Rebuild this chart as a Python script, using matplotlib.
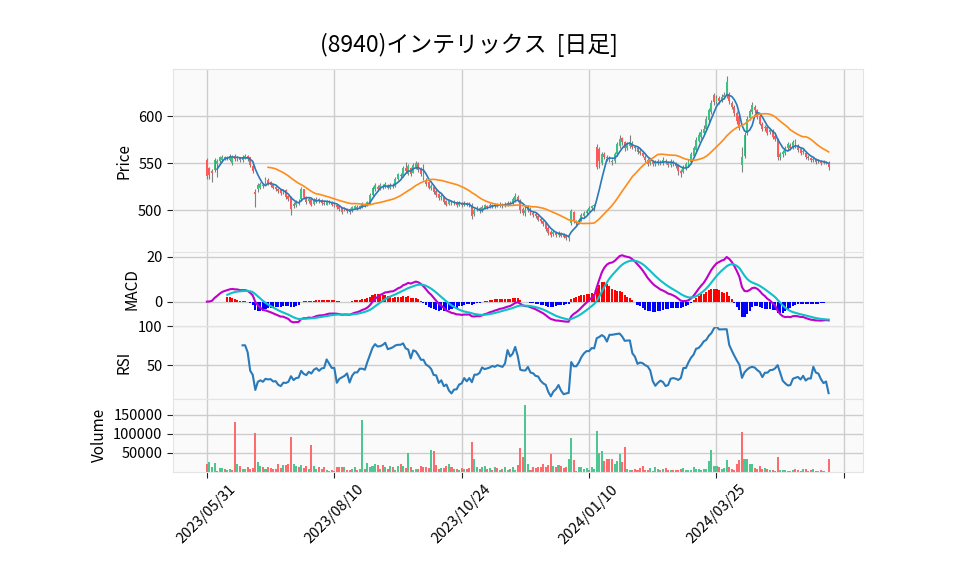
import numpy as np
import pandas as pd
import matplotlib
matplotlib.use("Agg")
import matplotlib.pyplot as plt

# Japanese title needs a CJK font, keep DejaVu as fallback
plt.rcParams['font.family'] = ['Noto Sans CJK JP', 'DejaVu Sans']

title = "(8940)インテリックス  [日足]"

# Daily prices (index 0 = 2023/05/31)
opens = [
    553, 545, 542, 543, 549, 552, 553, 557, 555, 553, 550, 558, 554, 556, 553, 556, 558, 556, 547, 519,
    522, 524, 527, 530, 532, 530, 527, 525, 523, 522, 520, 521, 515, 514, 504, 505, 508, 512, 522, 514,
    510, 512, 507, 509, 512, 511, 508, 506, 510, 509, 506, 505, 504, 502, 500, 500, 501, 499, 502, 503,
    502, 503, 506, 505, 508, 516, 522, 525, 523, 526, 525, 527, 524, 527, 526, 533, 537, 536, 545, 538,
    545, 540, 546, 550, 544, 540, 532, 530, 524, 525, 520, 517, 514, 514, 510, 507, 509, 508, 509, 506,
    507, 506, 508, 507, 506, 496, 501, 502, 500, 502, 504, 504, 505, 504, 506, 505, 506, 504, 506, 508,
    508, 511, 514, 510, 501, 497, 500, 501, 497, 496, 494, 491, 489, 486, 481, 477, 475, 476, 474, 476,
    474, 473, 471, 486, 498, 488, 486, 490, 494, 497, 499, 502, 504, 567, 565, 550, 560, 557, 556, 552,
    552, 560, 568, 577, 572, 566, 568, 571, 567, 566, 563, 561, 557, 553, 550, 551, 549, 550, 551, 550,
    552, 551, 548, 551, 549, 548, 542, 541, 545, 548, 551, 558, 564, 574, 578, 582, 586, 596, 604, 622,
    615, 619, 617, 620, 621, 623, 614, 610, 603, 600, 548, 558, 582, 598, 604, 610, 606, 600, 592, 587,
    588, 583, 584, 579, 576, 556, 560, 561, 566, 569, 567, 574, 568, 565, 562, 561, 557, 555, 553, 554,
    552, 551, 550, 551, 550,
]
highs = [
    555, 546, 544, 555, 554, 558, 559, 558, 558, 560, 559, 560, 558, 557, 559, 560, 559, 557, 549, 522,
    529, 530, 529, 535, 534, 531, 528, 526, 524, 523, 523, 522, 516, 515, 509, 511, 512, 525, 523, 515,
    514, 513, 513, 514, 513, 512, 510, 511, 511, 510, 508, 506, 505, 503, 503, 502, 502, 504, 505, 505,
    506, 509, 508, 510, 518, 526, 529, 527, 529, 528, 530, 528, 529, 529, 535, 540, 539, 547, 551, 549,
    546, 550, 552, 551, 546, 549, 534, 531, 528, 527, 522, 518, 517, 515, 511, 512, 511, 511, 510, 510,
    509, 510, 509, 509, 508, 502, 504, 503, 505, 507, 506, 508, 507, 508, 508, 509, 508, 509, 510, 510,
    514, 518, 516, 512, 503, 504, 505, 503, 499, 498, 495, 493, 490, 487, 483, 479, 479, 478, 478, 477,
    476, 475, 473, 501, 499, 490, 492, 497, 499, 501, 504, 506, 507, 570, 567, 562, 562, 559, 558, 554,
    562, 572, 580, 578, 573, 572, 580, 573, 569, 568, 565, 563, 559, 555, 554, 553, 553, 554, 553, 556,
    554, 552, 554, 553, 551, 549, 544, 548, 551, 554, 562, 568, 578, 583, 586, 590, 600, 609, 617, 625,
    622, 621, 623, 626, 643, 626, 616, 612, 605, 602, 567, 583, 600, 608, 615, 612, 608, 602, 594, 590,
    590, 587, 586, 581, 577, 562, 564, 568, 572, 571, 575, 576, 570, 567, 565, 563, 559, 557, 556, 555,
    554, 553, 553, 552, 552,
]
lows = [
    533, 533, 530, 541, 535, 550, 551, 553, 553, 552, 548, 552, 552, 551, 551, 554, 552, 546, 540, 503,
    519, 522, 524, 528, 527, 525, 522, 520, 518, 516, 517, 512, 510, 495, 502, 503, 506, 510, 512, 507,
    508, 504, 505, 508, 508, 506, 505, 505, 507, 504, 503, 501, 499, 496, 499, 497, 496, 498, 501, 500,
    501, 502, 503, 504, 507, 515, 520, 520, 521, 523, 524, 522, 523, 524, 525, 532, 534, 535, 540, 537,
    536, 539, 544, 541, 536, 532, 526, 522, 521, 517, 514, 511, 511, 507, 504, 505, 505, 506, 503, 504,
    503, 504, 504, 503, 491, 494, 499, 497, 498, 501, 501, 502, 502, 502, 503, 503, 502, 503, 504, 505,
    506, 509, 509, 497, 495, 494, 498, 495, 493, 492, 488, 486, 483, 478, 474, 471, 473, 472, 472, 471,
    470, 468, 467, 484, 486, 484, 485, 489, 492, 495, 497, 500, 499, 544, 545, 548, 554, 552, 551, 548,
    550, 558, 566, 569, 563, 564, 566, 565, 563, 560, 559, 556, 551, 547, 548, 547, 547, 548, 548, 548,
    549, 546, 546, 547, 545, 537, 535, 539, 543, 546, 549, 556, 562, 572, 576, 580, 584, 594, 602, 612,
    613, 613, 615, 618, 619, 613, 607, 600, 592, 585, 541, 555, 580, 596, 602, 603, 597, 590, 584, 584,
    580, 581, 576, 574, 553, 553, 557, 559, 564, 564, 565, 566, 562, 559, 560, 554, 553, 551, 551, 549,
    550, 548, 549, 549, 543,
]
closes = [
    536, 537, 540, 553, 552, 556, 557, 555, 556, 558, 557, 554, 556, 553, 557, 558, 554, 548, 542, 517,
    527, 528, 526, 532, 529, 527, 524, 522, 520, 518, 521, 514, 512, 501, 507, 510, 509, 523, 514, 509,
    512, 506, 511, 512, 510, 508, 507, 510, 509, 506, 505, 503, 501, 498, 502, 499, 498, 503, 504, 502,
    504, 507, 505, 509, 516, 524, 527, 522, 527, 525, 528, 524, 527, 526, 533, 538, 536, 545, 542, 547,
    538, 548, 550, 543, 538, 534, 528, 524, 526, 519, 516, 513, 515, 509, 506, 510, 507, 509, 505, 508,
    505, 508, 506, 505, 494, 500, 502, 499, 503, 505, 503, 506, 504, 506, 505, 507, 504, 507, 508, 507,
    512, 515, 511, 500, 497, 500, 502, 497, 495, 494, 490, 488, 485, 480, 476, 474, 477, 474, 476, 473,
    472, 470, 470, 499, 488, 486, 490, 495, 497, 499, 502, 504, 505, 546, 552, 560, 557, 555, 553, 551,
    560, 570, 576, 572, 566, 570, 572, 567, 566, 562, 561, 558, 553, 549, 552, 549, 551, 552, 550, 553,
    551, 548, 552, 549, 547, 542, 540, 546, 549, 552, 560, 566, 575, 580, 583, 586, 597, 606, 614, 615,
    619, 616, 620, 622, 636, 616, 610, 603, 595, 587, 556, 580, 597, 605, 612, 606, 599, 592, 586, 588,
    582, 585, 578, 576, 556, 560, 562, 566, 570, 566, 572, 568, 564, 561, 563, 556, 555, 553, 554, 551,
    552, 550, 551, 550, 546,
]
volumes = [
    21000, 26000, 12000, 23000, 3000, 10000, 10000, 8000, 4500, 8000, 5000, 130000, 21000, 16000, 8000, 8000, 13000, 8000, 11000, 102000,
    27000, 16000, 13000, 8000, 13000, 10000, 8000, 8000, 21000, 10000, 19000, 19000, 21000, 91000, 21000, 17000, 13000, 18000, 11000, 17000,
    9000, 72000, 15000, 8000, 13000, 8000, 13000, 5000, 3000, 4000, 2000, 13000, 13000, 13000, 13000, 5000, 5000, 8000, 13000, 5000,
    8000, 137000, 8000, 23000, 12000, 16000, 20000, 18000, 9000, 18000, 12000, 8000, 15000, 13000, 6000, 15000, 20000, 16000, 11000, 50000,
    12000, 5000, 9000, 8000, 15000, 12000, 12000, 10000, 59000, 56000, 18000, 8000, 10000, 10000, 17000, 20000, 12000, 9000, 8000, 5000,
    10000, 8000, 9000, 10000, 80000, 35000, 13000, 9000, 14000, 16000, 8000, 11000, 6000, 13000, 11000, 5000, 9000, 12000, 5000, 9000,
    12000, 6000, 18000, 63000, 39000, 176000, 20000, 5000, 14000, 10000, 12000, 14000, 20000, 13000, 18000, 47000, 17000, 13000, 19000, 16000,
    10000, 14000, 34000, 89000, 31000, 3000, 12000, 12000, 8000, 10000, 4000, 14000, 8000, 108000, 49000, 55000, 28000, 33000, 34000, 34000,
    21000, 30000, 46000, 25000, 65000, 8000, 5000, 4000, 9000, 6000, 11000, 16000, 5000, 4000, 10000, 3000, 14000, 8000, 5000, 8000,
    10000, 4000, 6000, 4000, 5000, 5000, 8000, 10000, 5000, 4000, 6000, 13000, 9000, 9000, 5000, 7000, 8000, 30000, 58000, 17000,
    15000, 13000, 8000, 10000, 32000, 12000, 7000, 6000, 20000, 32000, 104000, 34000, 34000, 20000, 21000, 11000, 7000, 15000, 8000, 10000,
    9000, 6000, 6000, 3000, 39000, 6000, 4000, 5000, 3000, 3000, 6000, 7000, 4000, 2000, 8000, 8000, 3000, 5000, 9000, 3000,
    2000, 6000, 2000, 1000, 34000,
]

tick_pos = [0, 50, 100, 150, 200, 250]
tick_labels = ["2023/05/31", "2023/08/10", "2023/10/24", "2024/01/10", "2024/03/25", ""]

df = pd.DataFrame({"Open": opens, "High": highs, "Low": lows, "Close": closes, "Volume": volumes})
x = np.arange(len(df))

# Moving averages (5 / 25 day)
ma5 = df["Close"].rolling(5).mean()
ma25 = df["Close"].rolling(25).mean()

# MACD 12/26/9
ema12 = df["Close"].ewm(span=12, adjust=False).mean()
ema26 = df["Close"].ewm(span=26, adjust=False).mean()
macd = ema12 - ema26
signal = macd.ewm(span=9, adjust=False, min_periods=9).mean()
hist = macd - signal

# RSI 14 (simple average)
delta = df["Close"].diff()
gain = delta.clip(lower=0).rolling(14).mean()
loss = (-delta.clip(upper=0)).rolling(14).mean()
rsi = 100 - 100 / (1 + gain / loss)

up_col, down_col = "#3cc383", "#ff5a5a"
vol_up, vol_down = "#4dc790", "#fd6b6c"
bg = "#fafafa"
grid_col = "#cdcdcd"

fig = plt.figure(figsize=(9.58, 5.75), dpi=100)
left, width = 173 / 958, 690 / 958
ax_p = fig.add_axes([left, 1 - 252.5 / 575, width, 183.5 / 575])
ax_m = fig.add_axes([left, 1 - 326 / 575, width, 73.5 / 575], sharex=ax_p)
ax_r = fig.add_axes([left, 1 - 398.5 / 575, width, 72.5 / 575], sharex=ax_p)
ax_v = fig.add_axes([left, 1 - 472 / 575, width, 73.5 / 575], sharex=ax_p)

for ax in (ax_p, ax_m, ax_r, ax_v):
    ax.set_facecolor(bg)
    ax.grid(True, color=grid_col, linewidth=1.0)
    ax.set_axisbelow(True)
    for s in ax.spines.values():
        s.set_color("#e4e4e4")
    ax.tick_params(axis="y", labelsize=10.5, length=4, color="#222222")
    ax.tick_params(axis="x", length=0)
    ax.set_xticks(tick_pos)

# Candles
up = df["Close"] >= df["Open"]
candle_cols = np.where(up, up_col, down_col)
ax_p.vlines(x, df["Low"], df["High"], color="#808080", linewidth=0.8, zorder=2)
ax_p.bar(x, (df["Close"] - df["Open"]).abs().clip(lower=0.6), bottom=np.minimum(df["Open"], df["Close"]),
         width=0.75, color=candle_cols, linewidth=0, zorder=3)
ax_p.plot(x, ma5, color="#2a7ab9", linewidth=1.2, zorder=4)
ax_p.plot(x, ma25, color="#ff8c1a", linewidth=1.2, zorder=4)
ax_p.set_ylim(455, 650)
ax_p.set_yticks([500, 550, 600])
ax_p.set_ylabel("Price", fontsize=11)

# MACD panel
hist_cols = np.where(hist >= 0, "red", "blue")
ax_m.bar(x, hist, width=0.8, color=hist_cols, linewidth=0)
ax_m.plot(x, macd, color="#c000c8", linewidth=1.5)
ax_m.plot(x, signal, color="#10c0c8", linewidth=1.5)
ax_m.set_ylim(-10.9, 22)
ax_m.set_yticks([0, 20])
ax_m.set_ylabel("MACD", fontsize=11)

# RSI panel
ax_r.plot(x, rsi, color="#2a7ab9", linewidth=1.5)
ax_r.set_ylim(7, 100.5)
ax_r.set_yticks([50, 100])
ax_r.set_ylabel("RSI", fontsize=11)

# Volume panel, colour by close-to-close change
prev = df["Close"].shift(1).fillna(df["Open"])
vol_cols = np.where(df["Close"] >= prev, vol_up, vol_down)
ax_v.bar(x, df["Volume"], width=0.8, color=vol_cols, linewidth=0)
ax_v.set_ylim(0, 193000)
ax_v.set_yticks([50000, 100000, 150000])
ax_v.set_ylabel("Volume", fontsize=11)

ax_v.set_xlim(-13.3, 257.5)
for ax in (ax_p, ax_m, ax_r):
    ax.tick_params(axis="x", labelbottom=False)
ax_v.tick_params(axis="x", length=4, color="#222222", labelsize=10.5)
ax_v.set_xticklabels(tick_labels, rotation=45, ha="center")

fig.text(469 / 958, 1 - 45 / 575, title, fontsize=16.5, ha="center", va="center")

fig.savefig("out.png", dpi=100)
